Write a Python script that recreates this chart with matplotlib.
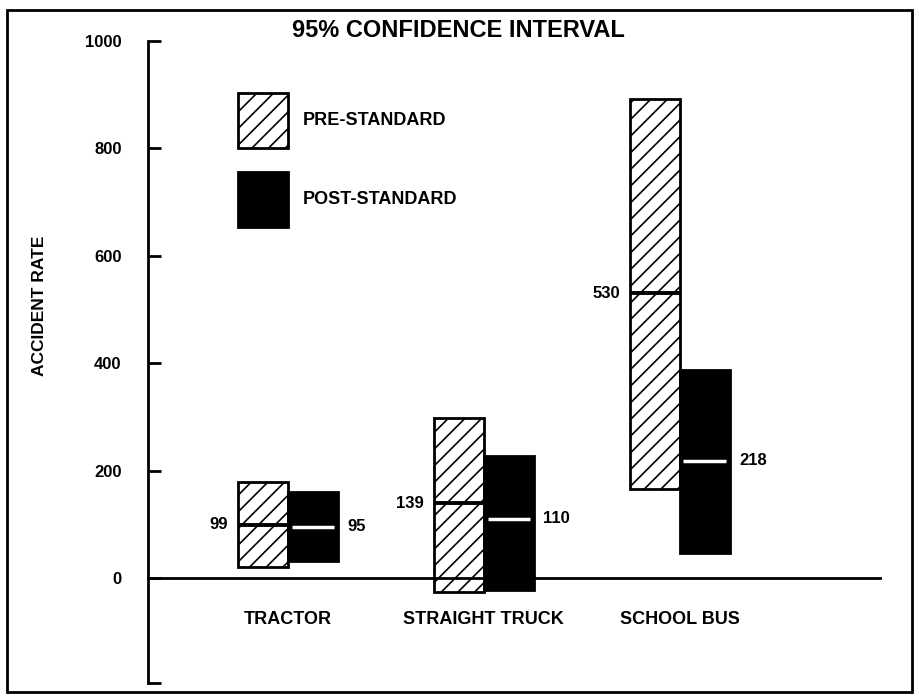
import matplotlib
matplotlib.use("Agg")
import matplotlib.pyplot as plt
import numpy as np
from matplotlib.patches import Patch, Rectangle

plt.rcParams['font.family'] = ['Liberation Sans', 'DejaVu Sans']
plt.rcParams['font.weight'] = 'bold'
plt.rcParams['hatch.linewidth'] = 1.2

# datos
categorias = ["TRACTOR", "STRAIGHT TRUCK", "SCHOOL BUS"]
pre_bajo = [20, -27, 165]
pre_alto = [178, 298, 892]
pre_tasa = [99, 139, 530]
post_bajo = [32, -22, 47]
post_alto = [161, 227, 387]
post_tasa = [95, 110, 218]
yticks = [0, 200, 400, 600, 800, 1000]

fig = plt.figure(figsize=(9.2, 7.0), dpi=100)
ax = fig.add_axes([148 / 920, 0.0209, 732 / 920, 0.9205])

x = np.arange(1, len(categorias) + 1)
w = 0.2554

alto_pre = np.array(pre_alto) - np.array(pre_bajo)
alto_post = np.array(post_alto) - np.array(post_bajo)

ax.bar(x - w / 2, alto_pre, width=w, bottom=pre_bajo, facecolor='white',
       edgecolor='black', linewidth=2, hatch='//', zorder=2)
ax.bar(x + w / 2, alto_post, width=w, bottom=post_bajo, facecolor='black',
       edgecolor='black', linewidth=2, zorder=3)

# lineas de la tasa
ax.hlines(pre_tasa, x - w, x, color='black', linewidth=2.8, zorder=4)
ax.hlines(post_tasa, x + 0.02, x + w - 0.02, color='white', linewidth=2.5, zorder=4)

for xi, v in zip(x, pre_tasa):
    ax.annotate(str(v), xy=(xi - w, v), xytext=(-7, 0), textcoords='offset points',
                ha='right', va='center', fontsize=12)
for xi, v in zip(x, post_tasa):
    ax.annotate(str(v), xy=(xi + w, v), xytext=(7, 0), textcoords='offset points',
                ha='left', va='center', fontsize=12)

ax.set_xlim(0.2848, 4.024)
ax.set_ylim(-200, 1000)

for s in ['top', 'right']:
    ax.spines[s].set_visible(False)
ax.spines['bottom'].set_position(('data', 0))
ax.spines['bottom'].set_linewidth(2)
ax.spines['left'].set_linewidth(2)
ax.spines['left'].set_bounds(-195, 1000)

ax.set_yticks(yticks)
ax.set_yticklabels([str(t) for t in yticks], fontsize=12, fontweight='bold')
ax.set_yticks([-195], minor=True)
ax.tick_params(axis='y', which='both', direction='in', length=9, width=2, pad=19)

ax.set_xticks(x)
ax.set_xticklabels(categorias, fontsize=13)
ax.tick_params(axis='x', length=0, pad=24)

ax.patch.set_visible(False)

handles = [Patch(facecolor='white', edgecolor='black', hatch='//', linewidth=2),
           Patch(facecolor='black', edgecolor='black', linewidth=2)]
ax.legend(handles, ["PRE-STANDARD", "POST-STANDARD"], loc='upper left',
          bbox_to_anchor=(238 / 920, 1 - 93 / 700), bbox_transform=fig.transFigure,
          frameon=False, fontsize=13, handlelength=2.77, handleheight=4.31,
          labelspacing=1.33, handletextpad=0.83, borderpad=0, borderaxespad=0)

fig.text(40 / 920, 1 - 306 / 700, "ACCIDENT RATE", rotation=90, ha='center',
         va='center', fontsize=12.5)
fig.text(458 / 920, 1 - 30.5 / 700, "95% CONFIDENCE INTERVAL", ha='center',
         va='center', fontsize=17, fontweight='bold')

# marco exterior
fig.add_artist(Rectangle((7 / 920, 8 / 700), 905 / 920, 682 / 700, fill=False,
                         edgecolor='black', linewidth=2, transform=fig.transFigure))

fig.savefig("out.png", dpi=100)
